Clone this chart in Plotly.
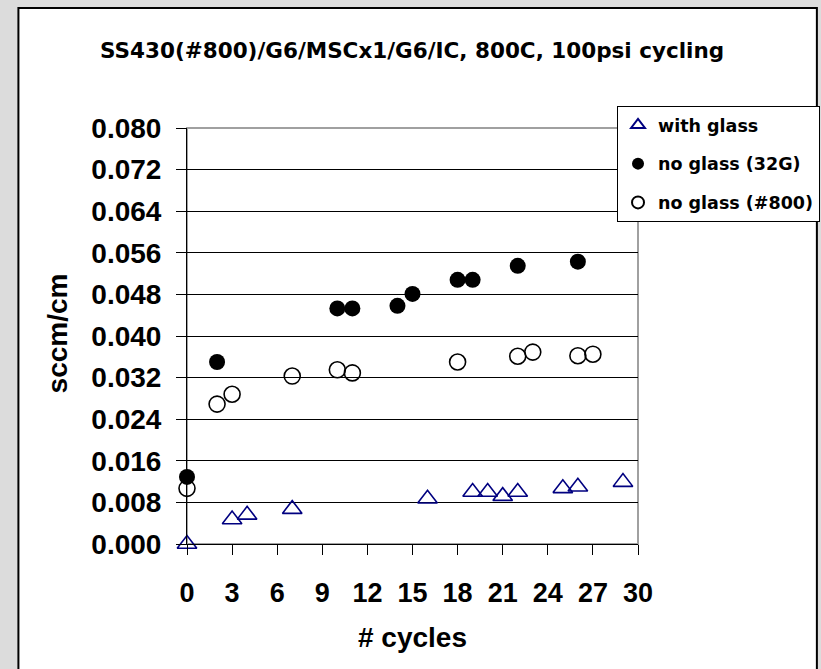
import plotly.graph_objects as go

# ---- data ----
glass_x = [0, 3, 4, 7, 16, 19, 20, 21, 22, 25, 26, 29]
glass_y = [0.0000, 0.0047, 0.0056, 0.0067, 0.0087, 0.0100, 0.0100, 0.0092, 0.0100, 0.0107, 0.0110, 0.0119]

g32_x = [0, 2, 10, 11, 14, 15, 18, 19, 22, 26]
g32_y = [0.0129, 0.0350, 0.0453, 0.0453, 0.0458, 0.0481, 0.0508, 0.0508, 0.0535, 0.0543]

n800_x = [0, 2, 3, 7, 10, 11, 18, 22, 23, 26, 27]
n800_y = [0.0107, 0.0269, 0.0288, 0.0323, 0.0335, 0.0329, 0.0350, 0.0361, 0.0369, 0.0362, 0.0365]

x_ticks = list(range(0, 31, 3))
y_ticks = [0.000, 0.008, 0.016, 0.024, 0.032, 0.040, 0.048, 0.056, 0.064, 0.072, 0.080]
y_tick_text = ["%.3f" % v for v in y_ticks]

title_text = "SS430(#800)/G6/MSCx1/G6/IC, 800C, 100psi cycling"
x_title = "# cycles"
y_title = "sccm/cm"

FONT = "Liberation Sans, Arial, sans-serif"
WIDE = "DejaVu Sans, Liberation Sans, sans-serif"

W, H = 821, 669
L, R, T, B = 186.7, 638.0, 128.0, 544.0


def px_to_paper_x(px):
    return (px - L) / (R - L)


def px_to_paper_y(py):
    return (B - py) / (B - T)


fig = go.Figure()

fig.add_trace(go.Scatter(
    x=glass_x, y=glass_y, mode="markers", name="with glass",
    legendgroup="a", legendrank=1, cliponaxis=False,
    marker=dict(symbol="triangle-up-open", size=17, color="#000080",
                line=dict(width=1.6, color="#000080")),
))
fig.add_trace(go.Scatter(
    x=n800_x, y=n800_y, mode="markers", name="no glass (#800)",
    legendgroup="c", legendrank=3, cliponaxis=False,
    marker=dict(symbol="circle-open", size=16, color="black",
                line=dict(width=1.6, color="black")),
))
fig.add_trace(go.Scatter(
    x=g32_x, y=g32_y, mode="markers", name="no glass (32G)",
    legendgroup="b", legendrank=2, cliponaxis=False,
    marker=dict(symbol="circle", size=16, color="black"),
))

fig.update_layout(
    width=W, height=H,
    margin=dict(l=L, r=W - R, t=T, b=H - B, pad=0, autoexpand=False),
    paper_bgcolor="#dcdcdc",
    plot_bgcolor="white",
    font=dict(family=FONT, color="black", size=16),
    showlegend=True,
    legend=dict(
        x=px_to_paper_x(617), y=px_to_paper_y(106), xanchor="left", yanchor="top",
        bgcolor="white", bordercolor="black", borderwidth=1,
        font=dict(family=WIDE, size=17.5, weight="bold", color="black"),
        traceorder="grouped", tracegroupgap=13, itemsizing="constant",
    ),
    xaxis=dict(
        range=[0, 30], tickmode="array", tickvals=x_ticks,
        showgrid=False, zeroline=False,
        showline=True, linecolor="black", linewidth=1,
        ticks="outside", ticklen=10, tickcolor="black", tickwidth=1,
        ticklabelstandoff=15,
        tickfont=dict(family=FONT, size=27, weight="bold", color="black"),
    ),
    yaxis=dict(
        range=[0, 0.08], tickmode="array", tickvals=y_ticks, ticktext=y_tick_text,
        showgrid=True, gridcolor="black", gridwidth=1, zeroline=False,
        showline=True, linecolor="black", linewidth=1,
        ticks="outside", ticklen=10, tickcolor="black", tickwidth=1,
        ticklabelstandoff=9,
        tickfont=dict(family=FONT, size=28, weight="bold", color="black"),
    ),
    shapes=[
        dict(type="rect", xref="paper", yref="paper", layer="below",
             x0=px_to_paper_x(18), x1=px_to_paper_x(817),
             y0=px_to_paper_y(700), y1=px_to_paper_y(8),
             fillcolor="white", line=dict(color="black", width=2)),
        dict(type="rect", xref="paper", yref="paper", layer="below",
             x0=0, x1=1, y0=0, y1=1,
             fillcolor="rgba(0,0,0,0)", line=dict(color="#a0a0a0", width=2)),
    ],
    annotations=[
        dict(text=title_text, xref="paper", yref="paper",
             x=px_to_paper_x(412), y=px_to_paper_y(50),
             xanchor="center", yanchor="middle", showarrow=False,
             font=dict(family=WIDE, size=21.5, weight="bold", color="black")),
        dict(text=x_title, xref="paper", yref="paper",
             x=px_to_paper_x(412), y=px_to_paper_y(637),
             xanchor="center", yanchor="middle", showarrow=False,
             font=dict(family=FONT, size=28, weight="bold", color="black")),
        dict(text=y_title, xref="paper", yref="paper",
             x=px_to_paper_x(57), y=px_to_paper_y(333),
             xanchor="center", yanchor="middle", showarrow=False, textangle=-90,
             font=dict(family=FONT, size=28, weight="bold", color="black")),
    ],
)

fig.write_html("out.html")
